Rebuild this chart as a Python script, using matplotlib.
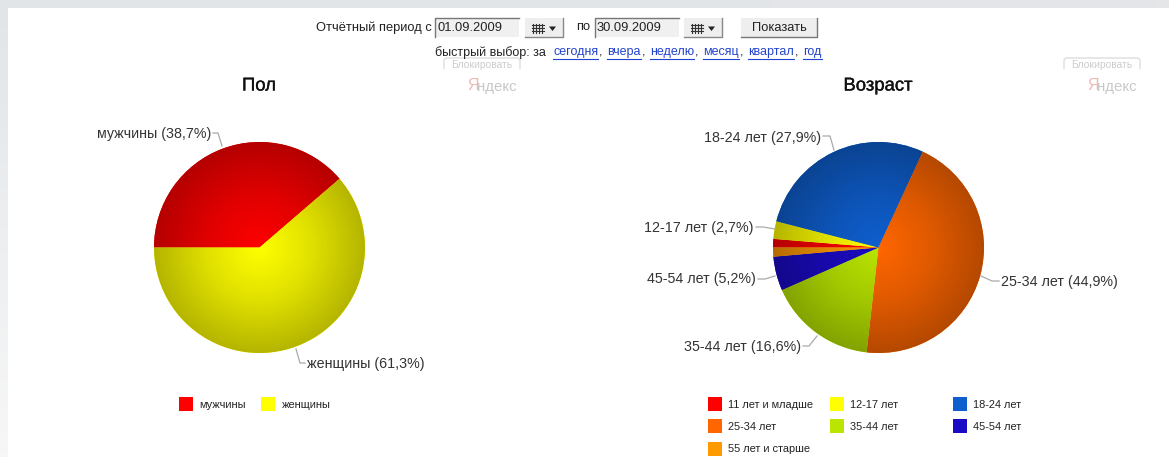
import numpy as np
import matplotlib
matplotlib.use('Agg')
import matplotlib.pyplot as plt
import matplotlib.patheffects as pe
from matplotlib.patches import Rectangle, FancyBboxPatch
from matplotlib.colors import LinearSegmentedColormap

plt.rcParams['font.family'] = ['Liberation Sans', 'DejaVu Sans']

W, H = 1169, 457

# data
sex_labels = ['мужчины', 'женщины']
sex_values = [38.7, 61.3]
sex_colors = ['#ff0000', '#ffff00']

age_labels = ['11 лет и младше', '12-17 лет', '18-24 лет', '25-34 лет',
              '35-44 лет', '45-54 лет', '55 лет и старше']
age_values = [1.3, 2.7, 27.9, 44.9, 16.6, 5.2, 1.4]
age_colors = ['#ff0000', '#ffff00', '#0f5fcf', '#ff6600',
              '#b9e500', '#1b0bc4', '#ff9900']

quick_links = ['сегодня', 'вчера', 'неделю', 'месяц', 'квартал', 'год']


def gradient_pie(center, radius, values, colors):
    # pie axes placed by pixels, y counted from the top of the picture
    cx, cy = center
    ax = fig.add_axes([(cx - radius) / W, 1 - (cy + radius) / H,
                       2 * radius / W, 2 * radius / H])
    wedges, _ = ax.pie(values, colors=colors, startangle=180, counterclock=False,
                       radius=1, wedgeprops={'linewidth': 0})
    ax.set_aspect('equal')
    ax.axis('off')
    # each slice gets a radial gradient, bright in the middle and dark at the rim
    x, y = np.meshgrid(np.linspace(-1, 1, 420), np.linspace(-1, 1, 420))
    r = np.clip(np.sqrt(x ** 2 + y ** 2), 0, 1)
    for w, c in zip(wedges, colors):
        rgb = np.array(matplotlib.colors.to_rgb(c))
        cmap = LinearSegmentedColormap.from_list(
            'g', [rgb, rgb * 0.88, rgb * 0.71], N=256)
        im = ax.imshow(r, extent=(-1, 1, -1, 1), origin='lower', cmap=cmap,
                       vmin=0, vmax=1, zorder=2)
        im.set_clip_path(w)
    ax.set_xlim(-1, 1)
    ax.set_ylim(-1, 1)
    return ax


fig = plt.figure(figsize=(W / 100, H / 100), dpi=100, facecolor='white')

# page overlay, works in picture pixels
bg = fig.add_axes([0, 0, 1, 1])
bg.set_xlim(0, W)
bg.set_ylim(H, 0)
bg.axis('off')

# page frame: grey strip along the top, left strip fading out to the bottom
left_strip = np.linspace(0, 1, 100).reshape(-1, 1)
frame_cmap = LinearSegmentedColormap.from_list('f', ['#e1e5e8', '#f7f7f7'])
bg.imshow(left_strip, extent=(0, 8, H, 0), aspect='auto', cmap=frame_cmap)
top_strip = np.linspace(0, 1, 100).reshape(1, -1)
top_cmap = LinearSegmentedColormap.from_list('t', ['#e1e5e8', '#e4e6e8'])
bg.imshow(top_strip, extent=(0, W, 8, 0), aspect='auto', cmap=top_cmap)
bg.set_xlim(0, W)
bg.set_ylim(H, 0)

# form row
bg.text(432, 27.5, 'Отчётный период с', ha='right', va='center', fontsize=9.3, color='#222222')
bg.text(576, 27.5, 'по', ha='left', va='center', fontsize=9.3, color='#222222')
for x0, date in [(435, '01.09.2009'), (595, '30.09.2009')]:
    bg.add_patch(Rectangle((x0, 18), 84, 19, fc='#f0f0f0', ec='none'))
    bg.plot([x0, x0, x0 + 84], [37, 18, 18], color='#777777', lw=1)
    bg.text(x0 + 2, 28, date, ha='left', va='center', fontsize=9.3, color='#222222')
for x0 in [525, 684]:
    bg.add_patch(Rectangle((x0, 18), 38, 19, fc='#eeeeee', ec='none'))
    bg.plot([x0, x0 + 38, x0 + 38], [37, 37, 18], color='#888888', lw=1)
    # little calendar icon
    for gx in [x0 + 8, x0 + 11, x0 + 14, x0 + 17]:
        bg.plot([gx, gx], [24, 33], color='#333333', lw=0.8)
    for gy in [25, 28, 31]:
        bg.plot([x0 + 7, x0 + 19], [gy, gy], color='#333333', lw=0.8)
    bg.fill([x0 + 24, x0 + 31, x0 + 27.5], [26.5, 26.5, 31], color='#222222', lw=0)
bg.add_patch(Rectangle((741, 18), 76, 19, fc='#eeeeee', ec='none'))
bg.plot([741, 817, 817], [37, 37, 18], color='#777777', lw=1)
bg.text(779, 28, 'Показать', ha='center', va='center', fontsize=9.3, color='#222222')

# quick choice links
bg.text(435, 52.5, 'быстрый выбор: за', ha='left', va='center', fontsize=9, color='#222222')
link_x = [553, 607, 650, 703, 748, 803]
link_end = [598, 641, 694, 739, 794, 822]
for i, name in enumerate(quick_links):
    bg.text(link_x[i], 52.5, name, ha='left', va='center', fontsize=9, color='#2244cc')
    bg.plot([link_x[i], link_end[i]], [59, 59], color='#2244cc', lw=0.8)
    if i < len(quick_links) - 1:
        bg.text(link_end[i] + 1, 52.5, ',', ha='left', va='center',
                fontsize=9, color='#222222')

# chart titles, a bit heavier than regular like the reference
heavy = [pe.withStroke(linewidth=0.25, foreground='#111111')]
bg.text(259, 86, 'Пол', ha='center', va='center', fontsize=13.3, color='#111111',
        path_effects=heavy)
bg.text(878, 86, 'Возраст', ha='center', va='center', fontsize=13.3, color='#111111',
        path_effects=heavy)

# ad marks
for x0 in [444, 1064]:
    bg.add_patch(FancyBboxPatch((x0, 58), 76, 16, boxstyle='round,pad=0,rounding_size=3',
                                fc='white', ec='#dddddd', lw=1))
    bg.add_patch(Rectangle((x0 - 2, 69), 80, 7, fc='white', ec='none'))
    bg.text(x0 + 38, 64.5, 'Блокировать', ha='center', va='center', fontsize=7.4, color='#cccccc')
    bg.text(x0 + 23, 86, 'Я', ha='left', va='center', fontsize=11.5, color='#f2b8b0')
    bg.text(x0 + 33.5, 87, 'ндекс', ha='left', va='center', fontsize=10.8, color='#c8c8c8')

gradient_pie((259.5, 247.5), 105.5, sex_values, sex_colors)
gradient_pie((878.5, 247.5), 105.5, age_values, age_colors)

# slice labels with their leader lines, drawn on top of the pies
top = fig.add_axes([0, 0, 1, 1])
top.set_xlim(0, W)
top.set_ylim(H, 0)
top.axis('off')
top.patch.set_alpha(0)

callouts = [
    ('мужчины (38,7%)', 211, 134, 'right', [(213, 133), (218, 133), (222, 146)]),
    ('женщины (61,3%)', 307, 364, 'left', [(296, 349), (300, 363), (305, 363)]),
    ('18-24 лет (27,9%)', 821, 138, 'right', [(823, 136), (830, 136), (834, 150)]),
    ('12-17 лет (2,7%)', 754, 228, 'right', [(756, 227), (763, 227), (775, 229)]),
    ('45-54 лет (5,2%)', 756, 279, 'right', [(758, 279), (765, 279), (775, 276)]),
    ('35-44 лет (16,6%)', 801, 347, 'right', [(803, 346), (809, 346), (817, 336)]),
    ('25-34 лет (44,9%)', 1001, 282, 'left', [(981, 276), (992, 281), (999, 281)]),
]
for text, tx, ty, ha, pts in callouts:
    top.text(tx, ty, text, ha=ha, va='center', fontsize=10.3, color='#333333')
    top.plot(*zip(*pts), color='#aaaaaa', lw=0.9)

# legends
sex_legend_x = [179, 261]
for i, name in enumerate(sex_labels):
    top.add_patch(Rectangle((sex_legend_x[i], 397), 14, 14, fc=sex_colors[i], ec='none'))
    top.text(sex_legend_x[i] + 20.5, 404.5, name, ha='left', va='center', fontsize=7.9, color='#222222')

age_col_x = [708, 830, 953]
age_row_y = [397, 419, 442]
for i, name in enumerate(age_labels):
    x0, y0 = age_col_x[i % 3], age_row_y[i // 3]
    top.add_patch(Rectangle((x0, y0), 14, 14, fc=age_colors[i], ec='none'))
    top.text(x0 + 20, y0 + 7.5, name, ha='left', va='center', fontsize=7.9, color='#222222')

fig.savefig('out.png', dpi=100, facecolor=fig.get_facecolor())
